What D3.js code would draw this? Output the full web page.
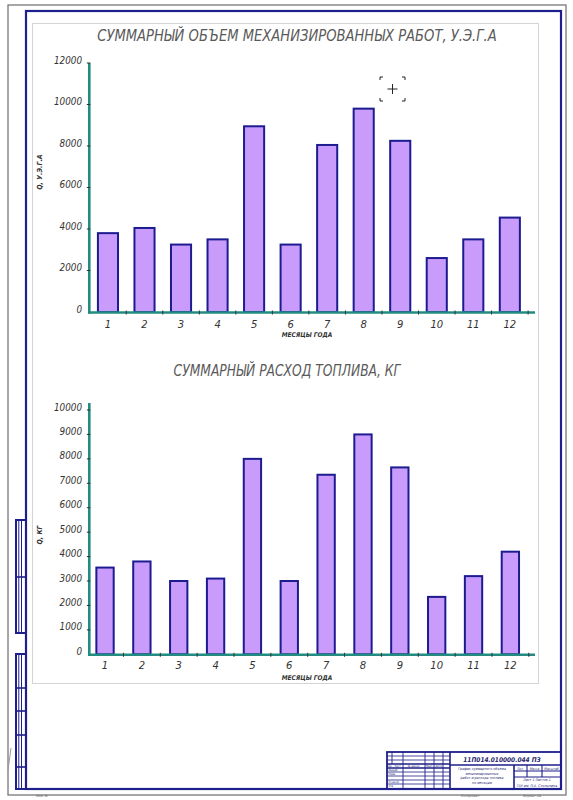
<!DOCTYPE html>
<html>
<head>
<meta charset="utf-8">
<script src="https://d3js.org/d3.v7.min.js"></script>
<style>
    body { margin: 0; background: #fff; }
    text { font-family: "Liberation Sans Narrow", "DejaVu Sans Condensed", "Liberation Sans", sans-serif; font-style: italic; }
    text.light { font-family: "DejaVu Sans", "Liberation Sans", sans-serif; font-weight: 200; }
</style>
</head>
<body>
<div id="sheet"></div>
<script>

// months of the year (x categories)
const months = ["1", "2", "3", "4", "5", "6", "7", "8", "9", "10", "11", "12"];

// total volume of mechanised work, conventional standard hectares
const workVolume = [3800, 4050, 3250, 3500, 8950, 3250, 8050, 9800, 8250, 2600, 3500, 4550];
const workTicks = [0, 2000, 4000, 6000, 8000, 10000, 12000];

// total fuel consumption, kg
const fuelUse = [3550, 3800, 3000, 3100, 8000, 3000, 7350, 9000, 7650, 2350, 3200, 4200];
const fuelTicks = [0, 1000, 2000, 3000, 4000, 5000, 6000, 7000, 8000, 9000, 10000];

const W = 573, H = 800;
const frameBlue = "#1e1e8c";
const teal = "#238c82";

let svg = d3.select("#sheet").append("svg")
    .attr("width", W)
    .attr("height", H);

svg.append("rect").attr("width", W).attr("height", H).attr("fill", "#fff");

// squeeze a text horizontally to a given width (CAD style narrow lettering)
function squeeze(sel, x, y, width) {
    sel.each(function() {
        let natural = this.getComputedTextLength();
        let sx = natural > 0 ? Math.min(1, width / natural) : 1;
        d3.select(this).attr("transform", `translate(${x}, ${y}) scale(${sx}, 1)`);
    });
}

// ---- drawing sheet frame ----
svg.append("rect")
    .attr("x", 8).attr("y", 5).attr("width", 558).attr("height", 790)
    .attr("fill", "none").attr("stroke", "#777").attr("stroke-width", 1.3);

svg.append("rect")
    .attr("x", 26).attr("y", 11).attr("width", 535).attr("height", 778)
    .attr("fill", "none").attr("stroke", frameBlue).attr("stroke-width", 2.2);

// chart panel
svg.append("rect")
    .attr("x", 32.5).attr("y", 23.5).attr("width", 506).attr("height", 660)
    .attr("fill", "none").attr("stroke", "#d4d4d4").attr("stroke-width", 1);

// left side stamps
function sideStamp(y0, y1, rows) {
    let g = svg.append("g").attr("stroke", frameBlue).attr("fill", "none");
    g.append("rect").attr("x", 16).attr("y", y0).attr("width", 10).attr("height", y1 - y0).attr("stroke-width", 2);
    g.append("line").attr("x1", 18.8).attr("x2", 18.8).attr("y1", y0).attr("y2", y1).attr("stroke-width", 1);
    g.append("line").attr("x1", 21.5).attr("x2", 21.5).attr("y1", y0).attr("y2", y1).attr("stroke-width", 1);
    rows.forEach(r => {
        g.append("line").attr("x1", 16).attr("x2", 26).attr("y1", r).attr("y2", r).attr("stroke-width", 1.6);
    });
}
sideStamp(520, 633, [577]);
sideStamp(654, 789, [688, 711, 735, 767]);

svg.append("line")
    .attr("x1", 8).attr("x2", 11).attr("y1", 770).attr("y2", 748)
    .attr("stroke", "#999").attr("stroke-width", 1);

// ---- chart drawing ----
function drawChart(cfg) {
    let g = svg.append("g");

    let x = d3.scaleBand()
        .domain(months)
        .range(cfg.xRange)
        .paddingInner(cfg.pad)
        .paddingOuter(cfg.pad / 2);

    let y = d3.scaleLinear()
        .domain([0, d3.max(cfg.ticks)])
        .range(cfg.yRange);

    // title
    g.append("text")
        .attr("class", "light")
        .attr("text-anchor", "middle")
        .attr("font-size", 16)
        .attr("fill", "#5a5a5a")
        .text(cfg.title.text)
        .call(squeeze, cfg.title.x, cfg.title.y, cfg.title.len);

    // bars
    g.selectAll("rect.bar")
        .data(cfg.values)
        .enter()
        .append("rect")
        .attr("class", "bar")
        .attr("x", (d, i) => x(months[i]))
        .attr("y", d => y(d))
        .attr("width", x.bandwidth())
        .attr("height", d => y(0) - y(d))
        .attr("fill", "#c99cfc")
        .attr("stroke", "#1c1c90")
        .attr("stroke-width", 2);

    // y axis line
    g.append("line")
        .attr("x1", cfg.axisX).attr("x2", cfg.axisX)
        .attr("y1", y(0) + 1.5).attr("y2", cfg.axisTop)
        .attr("stroke", teal).attr("stroke-width", 2.6);

    // x axis line
    g.append("line")
        .attr("x1", cfg.axisX - 1.3).attr("x2", cfg.axisRight)
        .attr("y1", y(0) + 0.5).attr("y2", y(0) + 0.5)
        .attr("stroke", teal).attr("stroke-width", 2.6);

    // y ticks + labels
    let yt = g.selectAll("g.ytick")
        .data(cfg.ticks)
        .enter()
        .append("g")
        .attr("class", "ytick")
        .attr("transform", d => `translate(0, ${y(d)})`);

    yt.filter(d => d > 0).append("line")
        .attr("x1", cfg.axisX - 2.5).attr("x2", cfg.axisX + 1)
        .attr("stroke", "#333").attr("stroke-width", 1);

    yt.append("text")
        .attr("class", "light")
        .attr("dy", "0.35em")
        .attr("text-anchor", "end")
        .attr("font-size", 10)
        .attr("fill", "#333")
        .text(d => d)
        .each(function(d) {
            d3.select(this).call(squeeze, cfg.labelX, -3, String(d).length * 5.6);
        });

    // x ticks at slot boundaries
    g.selectAll("line.xtick")
        .data(months)
        .enter()
        .append("line")
        .attr("class", "xtick")
        .attr("x1", d => x(d) + x.bandwidth() + x.step() * cfg.pad / 2)
        .attr("x2", d => x(d) + x.bandwidth() + x.step() * cfg.pad / 2)
        .attr("y1", y(0) - 1.5)
        .attr("y2", y(0) + 2.5)
        .attr("stroke", "#333").attr("stroke-width", 1);

    g.selectAll("text.xlabel")
        .data(months)
        .enter()
        .append("text")
        .attr("class", "light")
        .attr("x", d => x(d) + x.bandwidth() / 2)
        .attr("y", cfg.xLabelY)
        .attr("dy", "0.35em")
        .attr("text-anchor", "middle")
        .attr("font-size", 10)
        .attr("fill", "#333")
        .text(d => d);

    // axis titles
    g.append("text")
        .attr("x", 307)
        .attr("y", cfg.xTitleY)
        .attr("dy", "0.35em")
        .attr("text-anchor", "middle")
        .attr("font-size", 6.5)
        .attr("font-weight", "bold")
        .attr("fill", "#333")
        .text("МЕСЯЦЫ ГОДА");

    g.append("text")
        .attr("transform", `translate(40, ${cfg.yTitleY}) rotate(-90)`)
        .attr("text-anchor", "middle")
        .attr("dy", "0.35em")
        .attr("font-size", 7)
        .attr("font-weight", "bold")
        .attr("fill", "#333")
        .text(cfg.yTitle);
}

drawChart({
    values: workVolume,
    ticks: workTicks,
    xRange: [89.7, 528.1],
    pad: 0.45,
    yRange: [312, 63],
    axisX: 89.3,
    axisTop: 63,
    axisRight: 535,
    labelX: 82,
    xLabelY: 324,
    xTitleY: 335,
    yTitle: "Q, У.Э.Г.А",
    yTitleY: 172,
    title: {text: "СУММАРНЫЙ ОБЪЕМ МЕХАНИЗИРОВАННЫХ РАБОТ, У.Э.Г.А", x: 297, y: 41, len: 400}
});

drawChart({
    values: fuelUse,
    ticks: fuelTicks,
    xRange: [86.6, 528.8],
    pad: 0.53,
    yRange: [654.3, 410],
    axisX: 89.3,
    axisTop: 403,
    axisRight: 535,
    labelX: 82,
    xLabelY: 665,
    xTitleY: 678,
    yTitle: "Q, КГ",
    yTitleY: 535,
    title: {text: "СУММАРНЫЙ РАСХОД ТОПЛИВА, КГ", x: 287, y: 376, len: 227}
});

// screen cursor marker left in the picture
let cur = svg.append("g").attr("stroke", "#222").attr("stroke-width", 1).attr("fill", "none");
cur.append("path").attr("d", "M380,80 v-3 h3 M402,77 h3 v3 M405,98 v3 h-3 M383,101 h-3 v-3");
cur.append("path").attr("d", "M392.5,84 v10 M387.5,89 h10");

// ---- title block ----
let tb = svg.append("g").attr("stroke", frameBlue).attr("fill", "none");
tb.append("rect").attr("x", 387).attr("y", 752).attr("width", 174).attr("height", 37).attr("stroke-width", 1.8);

[756, 760, 764, 768, 772, 776, 780, 784].forEach(r => {
    tb.append("line").attr("x1", 387).attr("x2", 450).attr("y1", r).attr("y2", r)
        .attr("stroke-width", r === 764 || r === 768 ? 1.3 : 0.8);
});
[392, 403, 425, 434, 443, 450].forEach(c => {
    tb.append("line").attr("x1", c).attr("x2", c).attr("y1", 752).attr("y2", c === 392 ? 764 : 789)
        .attr("stroke-width", c === 450 ? 1.6 : 0.9);
});
tb.append("line").attr("x1", 450).attr("x2", 561).attr("y1", 765).attr("y2", 765).attr("stroke-width", 1.6);
tb.append("line").attr("x1", 514).attr("x2", 514).attr("y1", 765).attr("y2", 789).attr("stroke-width", 1.6);
tb.append("line").attr("x1", 514).attr("x2", 561).attr("y1", 771).attr("y2", 771).attr("stroke-width", 1.1);
tb.append("line").attr("x1", 514).attr("x2", 561).attr("y1", 777).attr("y2", 777).attr("stroke-width", 1.1);
[527, 542].forEach(c => {
    tb.append("line").attr("x1", c).attr("x2", c).attr("y1", 765).attr("y2", 777).attr("stroke-width", 1.1);
});

let tbText = svg.append("g").attr("fill", "#1e1e6c");
tbText.append("text").attr("x", 502).attr("y", 761.5).attr("text-anchor", "middle")
    .attr("font-size", 6.5).attr("font-weight", "bold").text("11П014.010000.044 ПЗ");
["График суммарного объема", "механизированных", "работ и расхода топлива", "по месяцам"].forEach((t, i) => {
    tbText.append("text").attr("x", 482).attr("y", 770 + i * 4.5).attr("text-anchor", "middle")
        .attr("font-size", 3.6).text(t);
});
["Лит.", "Масса", "Масштаб"].forEach((t, i) => {
    tbText.append("text").attr("x", [520.5, 534.5, 551.5][i]).attr("y", 769.5).attr("text-anchor", "middle")
        .attr("font-size", 3.4).text(t);
});
tbText.append("text").attr("x", 537).attr("y", 781).attr("text-anchor", "middle").attr("font-size", 3.6).text("Лист 1 Листов 1");
tbText.append("text").attr("x", 537).attr("y", 786.5).attr("text-anchor", "middle").attr("font-size", 3.6).text("ГАУ им. П.А. Столыпина");
["Изм.", "Лист", "№ докум.", "Подп.", "Дата"].forEach((t, i) => {
    tbText.append("text").attr("x", [389.5, 397.5, 414, 429.5, 438.5][i]).attr("y", 767.2).attr("text-anchor", "middle")
        .attr("font-size", 2.8).text(t);
});
["Разраб.", "Пров.", "Н.контр.", "Утв."].forEach((t, i) => {
    tbText.append("text").attr("x", 388.5).attr("y", 771 + i * 4 + (i > 1 ? 4 : 0)).attr("font-size", 2.8).text(t);
});

svg.append("text").attr("x", 470).attr("y", 797).attr("text-anchor", "middle")
    .attr("font-size", 3.5).attr("fill", "#666").text("Копировал");
svg.append("text").attr("x", 532).attr("y", 797).attr("text-anchor", "middle")
    .attr("font-size", 3.5).attr("fill", "#666").text("Формат А4");
svg.append("text").attr("x", 42).attr("y", 797).attr("text-anchor", "middle")
    .attr("font-size", 3.5).attr("fill", "#666").text("Инв. №");

</script>
</body>
</html>
